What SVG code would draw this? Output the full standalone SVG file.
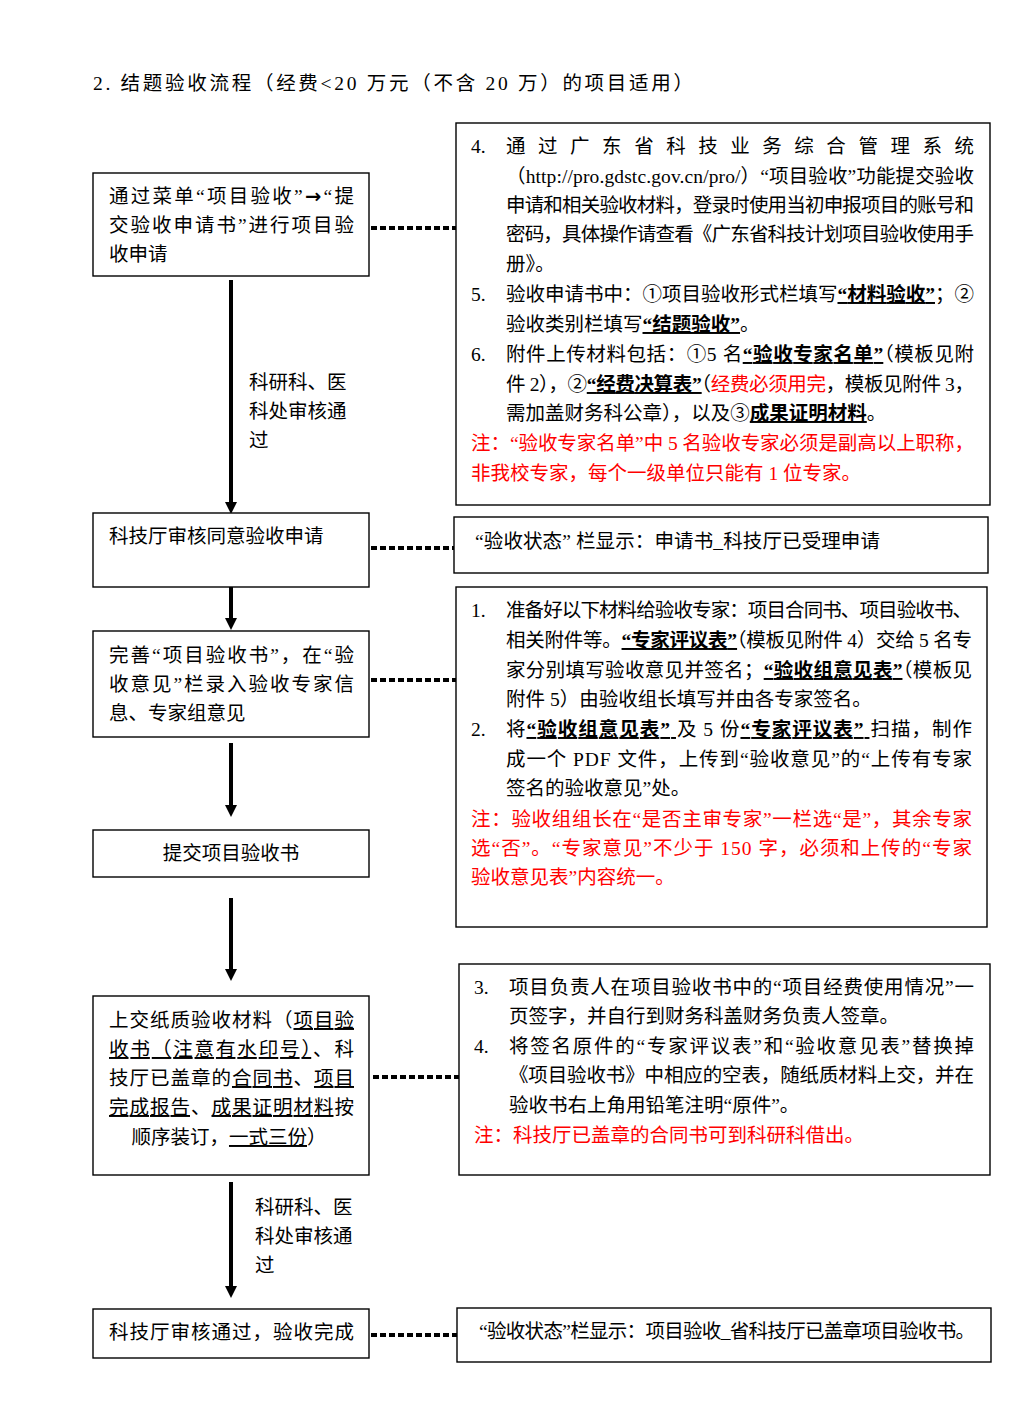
<svg xmlns="http://www.w3.org/2000/svg" width="1016" height="1416" viewBox="0 0 1016 1416">
<style>
  .t { font-family: "Liberation Serif", "Noto Sans CJK SC", serif; font-size: 19.5px; fill: #000; }
  .r { fill: #ff0000; }
  .u { text-decoration: underline; }
  .b { font-weight: bold; }
  .ar { font-family: "DejaVu Sans", sans-serif; font-weight: bold; }
  .box { fill: #fff; stroke: #000; stroke-width: 1.4; }
  .arrow { stroke: #000; stroke-width: 4; fill: none; }
  .head { fill: #000; }
  .dot { stroke: #000; stroke-width: 4; stroke-dasharray: 6 3; fill: none; }
</style>
<rect width="1016" height="1416" fill="#fff"/>

<text id="title" class="t" x="93" y="90" font-size="20.5" textLength="600" lengthAdjust="spacing">2. 结题验收流程（经费&lt;20 万元（不含 20 万）的项目适用）</text>

<g id="connectors">
  <line class="arrow" x1="231" y1="280" x2="231" y2="504"/>
  <polygon class="head" points="225,502 237,502 231,514"/>
  <line class="arrow" x1="231" y1="587" x2="231" y2="620"/>
  <polygon class="head" points="225,618 237,618 231,630"/>
  <line class="arrow" x1="231" y1="743" x2="231" y2="807"/>
  <polygon class="head" points="225,805 237,805 231,817"/>
  <line class="arrow" x1="231" y1="898" x2="231" y2="971"/>
  <polygon class="head" points="225,969 237,969 231,981"/>
  <line class="arrow" x1="231" y1="1182" x2="231" y2="1288"/>
  <polygon class="head" points="225,1286 237,1286 231,1298"/>

  <line class="dot" x1="371" y1="228" x2="456" y2="228"/>
  <line class="dot" x1="371" y1="548" x2="454" y2="548"/>
  <line class="dot" x1="371" y1="680" x2="456" y2="680"/>
  <line class="dot" x1="373" y1="1077" x2="459" y2="1077"/>
  <line class="dot" x1="371" y1="1335" x2="457" y2="1335"/>

  <text class="t" x="249" y="389">科研科、医</text>
  <text class="t" x="249" y="418">科处审核通</text>
  <text class="t" x="249" y="447">过</text>
  <text class="t" x="255" y="1214">科研科、医</text>
  <text class="t" x="255" y="1243">科处审核通</text>
  <text class="t" x="255" y="1272">过</text>
</g>

<g id="n1">
  <rect class="box" x="93" y="173" width="276" height="103"/>
  <text class="t" x="109" y="203" textLength="245" lengthAdjust="spacing">通过菜单“项目验收”<tspan class="ar">→</tspan>“提</text>
  <text class="t" x="109" y="232" textLength="245" lengthAdjust="spacing">交验收申请书”进行项目验</text>
  <text class="t" x="109" y="261">收申请</text>
</g>

<g id="n2">
  <rect class="box" x="93" y="513" width="276" height="74"/>
  <text class="t" x="109" y="543">科技厅审核同意验收申请</text>
</g>

<g id="n3">
  <rect class="box" x="93" y="631" width="276" height="106"/>
  <text class="t" x="109" y="662" textLength="245" lengthAdjust="spacing">完善“项目验收书”，在“验</text>
  <text class="t" x="109" y="691" textLength="245" lengthAdjust="spacing">收意见”栏录入验收专家信</text>
  <text class="t" x="109" y="720">息、专家组意见</text>
</g>

<g id="n4">
  <rect class="box" x="93" y="830" width="276" height="47"/>
  <text class="t" x="231" y="860" text-anchor="middle">提交项目验收书</text>
</g>

<g id="n5">
  <rect class="box" x="93" y="996" width="276" height="179"/>
  <text class="t" x="109" y="1027" textLength="245" lengthAdjust="spacing">上交纸质验收材料（<tspan class="u">项目验</tspan></text>
  <text class="t" x="109" y="1056" textLength="245" lengthAdjust="spacing"><tspan class="u">收书（注意有水印号）</tspan>、科</text>
  <text class="t" x="109" y="1085" textLength="245" lengthAdjust="spacing">技厅已盖章的<tspan class="u">合同书</tspan>、<tspan class="u">项目</tspan></text>
  <text class="t" x="109" y="1114" textLength="245" lengthAdjust="spacing"><tspan class="u">完成报告</tspan>、<tspan class="u">成果证明材料</tspan>按</text>
  <text class="t" x="229" y="1144" text-anchor="middle">顺序装订，<tspan class="u">一式三份</tspan>）</text>
</g>

<g id="n6">
  <rect class="box" x="93" y="1309" width="276" height="49"/>
  <text class="t" x="109" y="1339" textLength="245" lengthAdjust="spacing">科技厅审核通过，验收完成</text>
</g>

<g id="r1">
  <rect class="box" x="456" y="123" width="534" height="382"/>
  <text class="t" x="471" y="153">4.</text>
  <text class="t" x="506" y="153" textLength="468" lengthAdjust="spacing">通过广东省科技业务综合管理系统</text>
  <text class="t" x="506" y="183" textLength="468" lengthAdjust="spacing">（http://pro.gdstc.gov.cn/pro/）“项目验收”功能提交验收</text>
  <text class="t" x="506" y="212" textLength="468" lengthAdjust="spacing">申请和相关验收材料，登录时使用当初申报项目的账号和</text>
  <text class="t" x="506" y="241" textLength="468" lengthAdjust="spacing">密码，具体操作请查看《广东省科技计划项目验收使用手</text>
  <text class="t" x="506" y="271">册》。</text>
  <text class="t" x="471" y="301">5.</text>
  <text class="t" x="506" y="301" textLength="468" lengthAdjust="spacing">验收申请书中：①项目验收形式栏填写<tspan class="u b">“材料验收”</tspan>；②</text>
  <text class="t" x="506" y="331">验收类别栏填写<tspan class="u b">“结题验收”</tspan>。</text>
  <text class="t" x="471" y="361">6.</text>
  <text class="t" x="506" y="361" textLength="468" lengthAdjust="spacing">附件上传材料包括：①5 名<tspan class="u b">“验收专家名单”</tspan>（模板见附</text>
  <text class="t" x="506" y="391" textLength="468" lengthAdjust="spacing">件 2），②<tspan class="u b">“经费决算表”</tspan>（<tspan class="r">经费必须用完</tspan>，模板见附件 3，</text>
  <text class="t" x="506" y="420">需加盖财务科公章），以及③<tspan class="u b">成果证明材料</tspan>。</text>
  <text class="t r" x="471" y="450" textLength="503" lengthAdjust="spacing">注：“验收专家名单”中 5 名验收专家必须是副高以上职称，</text>
  <text class="t r" x="471" y="480">非我校专家，每个一级单位只能有 1 位专家。</text>
</g>

<g id="r2">
  <rect class="box" x="454" y="517" width="534" height="56"/>
  <text class="t" x="475" y="548" textLength="405" lengthAdjust="spacing">“验收状态” 栏显示：申请书_科技厅已受理申请</text>
</g>

<g id="r3">
  <rect class="box" x="456" y="587" width="531" height="340"/>
  <text class="t" x="471" y="617">1.</text>
  <text class="t" x="506" y="617" textLength="466" lengthAdjust="spacing">准备好以下材料给验收专家：项目合同书、项目验收书、</text>
  <text class="t" x="506" y="647" textLength="466" lengthAdjust="spacing">相关附件等。<tspan class="u b">“专家评议表”</tspan>（模板见附件 4）交给 5 名专</text>
  <text class="t" x="506" y="677" textLength="466" lengthAdjust="spacing">家分别填写验收意见并签名；<tspan class="u b">“验收组意见表”</tspan>（模板见</text>
  <text class="t" x="506" y="706">附件 5）由验收组长填写并由各专家签名。</text>
  <text class="t" x="471" y="736">2.</text>
  <text class="t" x="506" y="736" textLength="466" lengthAdjust="spacing">将<tspan class="u b">“验收组意见表” </tspan>及 5 份<tspan class="u b">“专家评议表” </tspan>扫描，制作</text>
  <text class="t" x="506" y="766" textLength="466" lengthAdjust="spacing">成一个 PDF 文件，上传到“验收意见”的“上传有专家</text>
  <text class="t" x="506" y="795">签名的验收意见”处。</text>
  <text class="t r" x="471" y="826" textLength="501" lengthAdjust="spacing">注：验收组组长在“是否主审专家”一栏选“是”，其余专家</text>
  <text class="t r" x="471" y="855" textLength="501" lengthAdjust="spacing">选“否”。“专家意见”不少于 150 字，必须和上传的“专家</text>
  <text class="t r" x="471" y="884">验收意见表”内容统一。</text>
</g>

<g id="r4">
  <rect class="box" x="459" y="964" width="531" height="211"/>
  <text class="t" x="474" y="994">3.</text>
  <text class="t" x="509" y="994" textLength="465" lengthAdjust="spacing">项目负责人在项目验收书中的“项目经费使用情况”一</text>
  <text class="t" x="509" y="1023">页签字，并自行到财务科盖财务负责人签章。</text>
  <text class="t" x="474" y="1053">4.</text>
  <text class="t" x="509" y="1053" textLength="465" lengthAdjust="spacing">将签名原件的“专家评议表”和“验收意见表”替换掉</text>
  <text class="t" x="509" y="1082" textLength="465" lengthAdjust="spacing">《项目验收书》中相应的空表，随纸质材料上交，并在</text>
  <text class="t" x="509" y="1112">验收书右上角用铅笔注明“原件”。</text>
  <text class="t r" x="474" y="1142">注：科技厅已盖章的合同书可到科研科借出。</text>
</g>

<g id="r5">
  <rect class="box" x="457" y="1308" width="534" height="54"/>
  <text class="t" x="479" y="1338" textLength="496" lengthAdjust="spacing">“验收状态”栏显示：项目验收_省科技厅已盖章项目验收书。</text>
</g>
</svg>
